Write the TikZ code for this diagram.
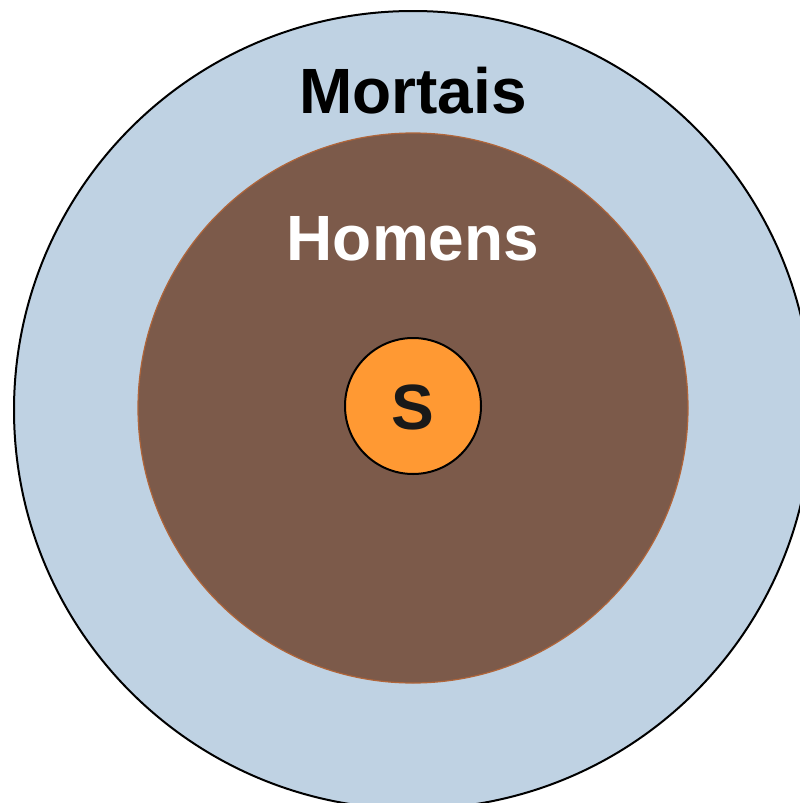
\documentclass[tikz,border=0pt]{standalone}
\usepackage{fontspec}
\setmainfont{Liberation Sans}
\definecolor{outerblue}{HTML}{BFD2E3}
\definecolor{midbrown}{HTML}{7C5A4A}
\definecolor{brownedge}{HTML}{B0653A}
\definecolor{coreorange}{HTML}{FF9933}
\tikzset{
  ringlabel/.style={font=\fontsize{64}{64}\selectfont\bfseries, inner sep=0pt, anchor=base},
}
\begin{document}
\begin{tikzpicture}[x=1pt,y=-1pt]
\useasboundingbox (0,0) rectangle (800,803);
\clip (0,0) rectangle (800,803);
\fill[white] (0,0) rectangle (800,803);
\node[circle, draw=black, line width=2pt, fill=outerblue, minimum size=798pt, inner sep=0pt] (mortais) at (413,410) {};
\node[circle, draw=brownedge, line width=1.2pt, fill=midbrown, minimum size=550pt, inner sep=0pt] (homens) at (413,408) {};
\node[circle, draw=black, line width=2pt, fill=coreorange, minimum size=136pt, inner sep=0pt] (s) at (413,406) {};
\node[ringlabel, text=black] (tm) at (413,113) {Mortais};
\node[ringlabel, text=white] (th) at (413,260) {Homens};
\node[ringlabel, text=black!90] (ts) at (413,429) {S};
\end{tikzpicture}
\end{document}
